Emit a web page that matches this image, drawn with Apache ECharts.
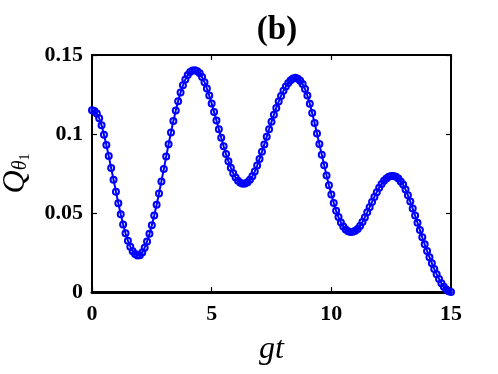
<!DOCTYPE html>
<html>
<head>
<meta charset="utf-8">
<script src="https://cdn.jsdelivr.net/npm/echarts@6/dist/echarts.min.js"></script>
<style>
  html, body { margin: 0; padding: 0; background: #fff; }
  #chart { width: 498px; height: 374px; }
</style>
</head>
<body>
<div id="chart"></div>
<script>
// gt samples (step 0.1)
const gt = [
  0.0, 0.1, 0.2, 0.3, 0.4, 0.5, 0.6, 0.7, 0.8, 0.9,
  1.0, 1.1, 1.2, 1.3, 1.4, 1.5, 1.6, 1.7, 1.8, 1.9,
  2.0, 2.1, 2.2, 2.3, 2.4, 2.5, 2.6, 2.7, 2.8, 2.9,
  3.0, 3.1, 3.2, 3.3, 3.4, 3.5, 3.6, 3.7, 3.8, 3.9,
  4.0, 4.1, 4.2, 4.3, 4.4, 4.5, 4.6, 4.7, 4.8, 4.9,
  5.0, 5.1, 5.2, 5.3, 5.4, 5.5, 5.6, 5.7, 5.8, 5.9,
  6.0, 6.1, 6.2, 6.3, 6.4, 6.5, 6.6, 6.7, 6.8, 6.9,
  7.0, 7.1, 7.2, 7.3, 7.4, 7.5, 7.6, 7.7, 7.8, 7.9,
  8.0, 8.1, 8.2, 8.3, 8.4, 8.5, 8.6, 8.7, 8.8, 8.9,
  9.0, 9.1, 9.2, 9.3, 9.4, 9.5, 9.6, 9.7, 9.8, 9.9,
  10.0, 10.1, 10.2, 10.3, 10.4, 10.5, 10.6, 10.7, 10.8, 10.9,
  11.0, 11.1, 11.2, 11.3, 11.4, 11.5, 11.6, 11.7, 11.8, 11.9,
  12.0, 12.1, 12.2, 12.3, 12.4, 12.5, 12.6, 12.7, 12.8, 12.9,
  13.0, 13.1, 13.2, 13.3, 13.4, 13.5, 13.6, 13.7, 13.8, 13.9,
  14.0, 14.1, 14.2, 14.3, 14.4, 14.5, 14.6, 14.7, 14.8, 14.9,
  15.0
]

// Q_theta1
const qTheta1 = [
  0.1150, 0.1145, 0.1130, 0.1100, 0.1055, 0.0995, 0.0930, 0.0860, 0.0785, 0.0710,
  0.0635, 0.0562, 0.0492, 0.0428, 0.0372, 0.0325, 0.0287, 0.0258, 0.0240, 0.0231,
  0.0233, 0.0250, 0.0280, 0.0320, 0.0368, 0.0422, 0.0484, 0.0552, 0.0624, 0.0700,
  0.0778, 0.0857, 0.0935, 0.1010, 0.1082, 0.1148, 0.1208, 0.1262, 0.1308, 0.1345,
  0.1373, 0.1392, 0.1402, 0.1403, 0.1397, 0.1385, 0.1360, 0.1328, 0.1288, 0.1243,
  0.1193, 0.1140, 0.1085, 0.1030, 0.0976, 0.0923, 0.0873, 0.0828, 0.0787, 0.0752,
  0.0724, 0.0704, 0.0691, 0.0685, 0.0686, 0.0694, 0.0710, 0.0733, 0.0762, 0.0800,
  0.0842, 0.0887, 0.0934, 0.0982, 0.1030, 0.1077, 0.1122, 0.1165, 0.1205, 0.1241,
  0.1273, 0.1300, 0.1322, 0.1340, 0.1352, 0.1356, 0.1350, 0.1337, 0.1316, 0.1285,
  0.1243, 0.1192, 0.1133, 0.1069, 0.1003, 0.0936, 0.0869, 0.0803, 0.0738, 0.0676,
  0.0617, 0.0563, 0.0515, 0.0474, 0.0440, 0.0414, 0.0396, 0.0385, 0.0380, 0.0381,
  0.0387, 0.0398, 0.0418, 0.0443, 0.0472, 0.0504, 0.0537, 0.0570, 0.0602, 0.0632,
  0.0660, 0.0684, 0.0704, 0.0719, 0.0729, 0.0734, 0.0734, 0.0729, 0.0718, 0.0700,
  0.0680, 0.0648, 0.0612, 0.0572, 0.0528, 0.0484, 0.0438, 0.0392, 0.0346, 0.0302,
  0.0260, 0.0220, 0.0182, 0.0146, 0.0113, 0.0082, 0.0055, 0.0033, 0.0016, 0.0005,
  0.0000
]

const serif = '"Liberation Serif", "DejaVu Serif", serif'

const chart = echarts.init(document.getElementById('chart'))

const tickLabel = { color: '#000', fontFamily: serif, fontWeight: 'bold', fontSize: 22 }
const frameLine = { show: true, onZero: false, lineStyle: { color: '#000', width: 2 } }
const inTick = { show: true, inside: true, length: 5, lineStyle: { color: '#000', width: 1.2 } }

chart.setOption({
  animation: false,
  title: {
    text: '(b)',
    left: 272,
    top: 9,
    textAlign: 'center',
    textStyle: { fontFamily: serif, fontWeight: 'bold', fontSize: 33, color: '#000' }
  },
  grid: { left: 92, right: 47, top: 55, bottom: 82, outerBoundsMode: 'none' },
  xAxis: [
    {
      type: 'value', min: 0, max: 15, interval: 5,
      axisLine: { show: true, onZero: false, lineStyle: { color: '#000', width: 3 } },
      axisTick: inTick,
      axisLabel: { ...tickLabel, margin: 11 },
      splitLine: { show: false },
      name: 'gt',
      nameLocation: 'middle',
      nameGap: 42,
      nameTextStyle: { fontFamily: serif, fontStyle: 'italic', fontSize: 32, color: '#000' }
    },
    {
      type: 'value', position: 'top', min: 0, max: 15, interval: 5,
      axisLine: frameLine, axisTick: inTick,
      axisLabel: { show: false }, splitLine: { show: false }
    }
  ],
  yAxis: [
    {
      type: 'value', min: 0, max: 0.15, interval: 0.05,
      axisLine: frameLine, axisTick: inTick,
      axisLabel: { ...tickLabel, margin: 9 },
      splitLine: { show: false },
      name: '{q|Q}{t|θ}{s|1}',
      nameLocation: 'middle',
      nameRotate: 90,
      nameGap: 60,
      nameTextStyle: {
        color: '#000',
        rich: {
          q: { fontFamily: serif, fontStyle: 'italic', fontSize: 32, color: '#000' },
          t: { fontFamily: serif, fontStyle: 'italic', fontSize: 20, color: '#000', padding: [10, 0, 0, 0] },
          s: { fontFamily: serif, fontSize: 14, color: '#000', padding: [18, 0, 0, 0] }
        }
      }
    },
    {
      type: 'value', position: 'right', min: 0, max: 0.15, interval: 0.05,
      axisLine: frameLine, axisTick: inTick,
      axisLabel: { show: false }, splitLine: { show: false }
    }
  ],
  series: [{
    type: 'line',
    data: gt.map((x, i) => [x, qTheta1[i]]),
    symbol: 'circle',
    symbolSize: 6,
    showAllSymbol: true,
    lineStyle: { color: '#0000ff', width: 2 },
    itemStyle: { color: 'rgba(0,0,0,0)', borderColor: '#0000ff', borderWidth: 2 },
    z: 3
  }]
})
</script>
</body>
</html>
